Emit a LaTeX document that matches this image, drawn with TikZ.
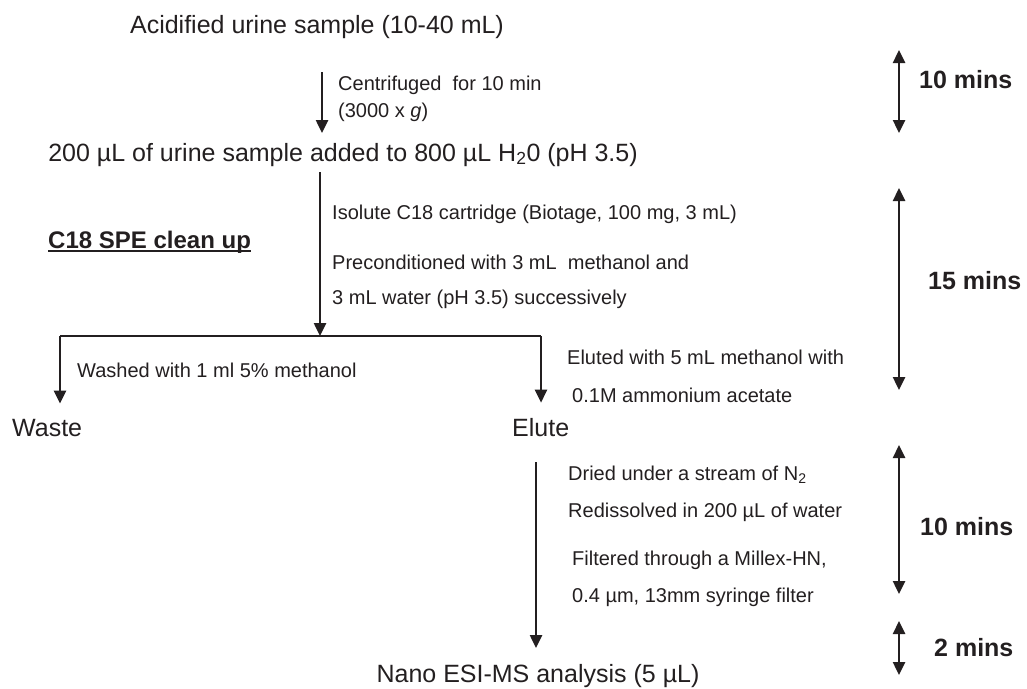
\documentclass[tikz,border=0pt]{standalone}
\usepackage{fontspec}
\setmainfont{Liberation Sans}
\usetikzlibrary{arrows.meta}
\definecolor{ink}{HTML}{231F20}
\tikzstyle{sample} = [anchor=base, inner sep=0pt, text=ink, font=\fontsize{25}{30}\selectfont]
\tikzstyle{sampleleft} = [sample, anchor=base west]
\tikzstyle{note} = [anchor=base west, inner sep=0pt, text=ink, font=\fontsize{20}{24}\selectfont]
\tikzstyle{heading} = [anchor=base west, inner sep=0pt, text=ink, font=\bfseries\fontsize{24}{28}\selectfont]
\tikzstyle{timing} = [anchor=base west, inner sep=0pt, text=ink, font=\bfseries\fontsize{25}{30}\selectfont]
\tikzstyle{arrow} = [draw=ink, line width=2.5pt, -{Triangle[width=12pt,length=13pt]}]
\tikzstyle{span} = [draw=ink, line width=2.5pt, {Triangle[width=12pt,length=13pt]}-{Triangle[width=12pt,length=13pt]}]

\begin{document}
\begin{tikzpicture}[x=1pt,y=-1pt]
            \useasboundingbox (0,0) rectangle (1027,688);
            \node [sample] at (317,33) (urine) {Acidified urine sample (10-40 mL)};
            \node [sample] at (343,161) (diluted) {200 µL of urine sample added to 800 µL H\textsubscript{2}0 (pH 3.5)};
            \node [sampleleft] at (12,436) (waste) {Waste};
            \node [sampleleft] at (512,436) (elute) {Elute};
            \node [sample] at (538,682) (nano) {Nano ESI-MS analysis (5 µL)};

            \node [note] at (338,90) (spin) {Centrifuged\ \ for 10 min};
            \node [note] at (338,117) (spinforce) {(3000 x \textit{g})};
            \node [heading] at (48,248) (spe) {C18 SPE clean up};
            \node [note] at (332,219) (cartridge) {Isolute C18 cartridge (Biotage, 100 mg, 3 mL)};
            \node [note] at (332,269) (precond1) {Preconditioned with 3 mL\ \ methanol and};
            \node [note] at (332,304) (precond2) {3 mL water (pH 3.5) successively};
            \node [note] at (77,377) (wash) {Washed with 1 ml 5\% methanol};
            \node [note] at (567,364) (elution1) {Eluted with 5 mL methanol with};
            \node [note] at (572,402) (elution2) {0.1M ammonium acetate};
            \node [note] at (568,480) (dry) {Dried under a stream of N\textsubscript{2}};
            \node [note] at (568,517) (redissolve) {Redissolved in 200 µL of water};
            \node [note] at (572,565) (filter1) {Filtered through a Millex-HN,};
            \node [note] at (572,602) (filter2) {0.4 µm, 13mm syringe filter};

            \node [timing] at (919,88) (t1) {10 mins};
            \node [timing] at (928,289) (t2) {15 mins};
            \node [timing] at (920,535) (t3) {10 mins};
            \node [timing] at (934,656) (t4) {2 mins};

            % arrow ends
            \coordinate (a1top) at (322,72);
            \coordinate (a1tip) at (322,133);
            \coordinate (a2top) at (320,172);
            \coordinate (split) at (320,336);
            \coordinate (wastebr) at (60,336);
            \coordinate (elutebr) at (541,336);
            \coordinate (a3top) at (536,462);
            \coordinate (a3tip) at (536,648);

            \draw [arrow] (a1top) -- (a1tip);
            \draw [arrow] (a2top) -- (split);
            \draw [draw=ink, line width=2.5pt] (wastebr) -- (elutebr);
            \draw [arrow] (wastebr) -- ([yshift=15pt]wastebr |- waste.north);
            \draw [arrow] (elutebr) -- ([yshift=15pt]elutebr |- elute.north);
            \draw [arrow] (a3top) -- (a3tip);
            \draw [draw=ink, line width=2.2pt] ([yshift=-3pt]spe.base west) -- ([yshift=-3pt]spe.base east);

            % time spans
            \draw [span] (899,50) -- (899,133);
            \draw [span] (899,188) -- (899,390);
            \draw [span] (899,445) -- (899,594);
            \draw [span] (899,621) -- (899,675);
\end{tikzpicture}
\end{document}
